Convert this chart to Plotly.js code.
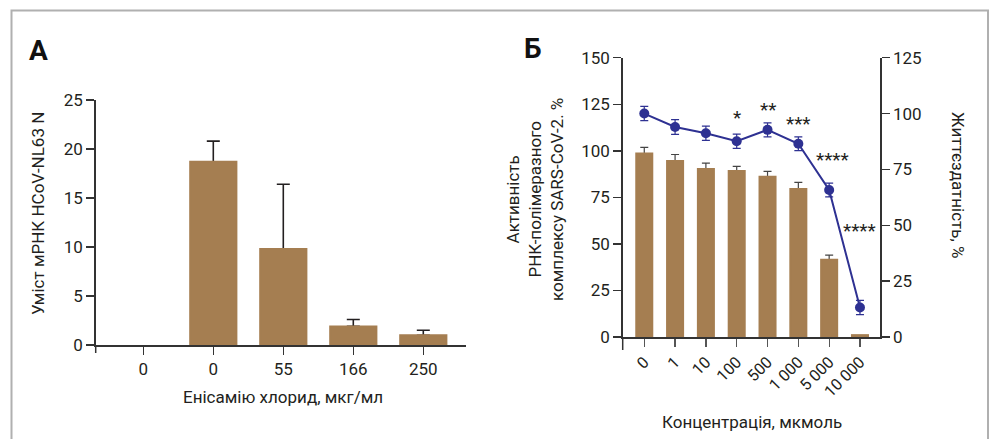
<!DOCTYPE html>
<html>
<head>
<meta charset="utf-8">
<script src="https://cdn.plot.ly/plotly-3.0.1.min.js"></script>
<style>html,body{margin:0;padding:0;background:#fff;}#chart{width:1001px;height:439px;}</style>
</head>
<body>
<div id="chart"></div>
<script>
// Panel A data
const categoriesA = ['0', '0', '55', '166', '250'];
const valuesA = [0, 18.7, 9.8, 1.9, 1.0];
const errorsA = [0, 2.1, 6.6, 0.7, 0.5];

// Panel B data
const categoriesB = ['0', '1', '10', '100', '500', '1 000', '5 000', '10 000'];
const activityB = [98.5, 94.5, 90.2, 89.1, 86.0, 79.5, 41.5, 1.0];
const activityErrB = [3.3, 3.5, 3.2, 2.5, 2.9, 3.5, 2.5, 0];
const viabilityB = [100, 94, 91.2, 87.6, 92.7, 86.5, 65.8, 13.2];
const viabilityErrB = [3.2, 3.3, 3.2, 3.2, 3.1, 3.1, 3.1, 3.2];
const starsB = ['', '', '', '*', '**', '***', '****', '****'];
const starY = [0, 0, 0, 118, 122, 114.5, 95.5, 57];
const starX = [0, 0, 0, 3, 4, 5, 6.1, 7.0];

const W = 1001, H = 439;
const px = v => v / W;
const py = v => 1 - v / H;

const brown = '#a57e51';
const blue = '#2e3192';
const ink = '#231f20';
const font = 'Roboto, "Noto Sans", sans-serif';

const idxA = categoriesA.map((c, i) => i);
const idxB = categoriesB.map((c, i) => i);
// error-bar anchor points only where an error exists
const errPtsA = valuesA.map((v, i) => errorsA[i] > 0 ? v : null);
const errPtsB = activityB.map((v, i) => activityErrB[i] > 0 ? v : null);

const traces = [
  // error bars (base axes, drawn beneath the bars)
  {
    type: 'scatter', mode: 'markers', x: idxA, y: errPtsA, xaxis: 'x', yaxis: 'y',
    marker: {size: 1, color: 'rgba(0,0,0,0)'},
    error_y: {type: 'data', array: errorsA, arrayminus: errorsA.map(() => 0), symmetric: false,
      color: ink, thickness: 1.6, width: 6.5},
    hoverinfo: 'skip', cliponaxis: false
  },
  {
    type: 'scatter', mode: 'markers', x: idxB, y: errPtsB, xaxis: 'x2', yaxis: 'y2',
    marker: {size: 1, color: 'rgba(0,0,0,0)'},
    error_y: {type: 'data', array: activityErrB, arrayminus: activityErrB.map(() => 0), symmetric: false,
      color: '#444', thickness: 1.2, width: 4},
    hoverinfo: 'skip', cliponaxis: false
  },
  // bars (overlay axes, drawn above)
  {
    type: 'bar', x: idxA, y: valuesA, xaxis: 'x', yaxis: 'y4',
    width: 0.66, marker: {color: brown, line: {color: brown, width: valuesA.map(v => v > 0 ? 2 : 0)}},
    hoverinfo: 'skip'
  },
  {
    type: 'bar', x: idxB, y: activityB, xaxis: 'x2', yaxis: 'y5',
    width: 0.52, marker: {color: brown, line: {color: brown, width: 2}}, hoverinfo: 'skip'
  },
  {
    type: 'scatter', mode: 'lines+markers', x: idxB, y: viabilityB, xaxis: 'x2', yaxis: 'y3',
    line: {color: blue, width: 2}, marker: {color: blue, size: 10},
    error_y: {type: 'data', array: viabilityErrB, color: blue, thickness: 1.2, width: 4},
    hoverinfo: 'skip', cliponaxis: false
  }
];

const axisCommon = {
  showgrid: false, zeroline: false, showline: true, linecolor: '#333', linewidth: 1.5,
  ticks: 'outside', ticklen: 8, tickwidth: 1.5, tickcolor: '#333',
  tickfont: {family: font, size: 17, color: ink}, fixedrange: true
};

const ann = (text, x, y, extra) => Object.assign({
  text: text, x: px(x), y: py(y), xref: 'paper', yref: 'paper', showarrow: false,
  xanchor: 'center', yanchor: 'middle', font: {family: font, size: 17, color: ink}
}, extra || {});

const annotations = [
  ann('A', 38, 50, {font: {family: font, size: 28, color: '#111', weight: 'bold'}}),
  ann('Б', 533, 48, {font: {family: font, size: 28, color: '#111', weight: 'bold'}}),
  ann('Уміст мРНК HCoV-NL63 N', 38, 214, {textangle: -90}),
  ann('Енісамію хлорид, мкг/мл', 283, 397),
  ann('Активність<br>РНК-полімеразного<br>комплексу SARS-CoV-2. %', 535, 200, {textangle: -90}),
  ann('Життєздатність, %', 958, 185, {textangle: 90}),
  ann('Концентрація, мкмоль', 752, 422)
];
starsB.forEach((s, i) => {
  if (!s) return;
  annotations.push({text: s, x: starX[i], y: starY[i], xref: 'x2', yref: 'y2', showarrow: false,
    xanchor: 'center', yanchor: 'middle', font: {family: font, size: 19, color: ink}});
});

const layout = {
  width: W, height: H, margin: {l: 0, r: 0, t: 0, b: 0},
  paper_bgcolor: '#fff', plot_bgcolor: 'rgba(0,0,0,0)', showlegend: false,
  barmode: 'overlay',
  xaxis: Object.assign({}, axisCommon, {
    domain: [px(95.7), px(466)], range: [-0.68, 4.61], anchor: 'y',
    tickvals: idxA, ticktext: categoriesA
  }),
  yaxis: Object.assign({}, axisCommon, {
    domain: [py(345), py(100)], range: [0, 25], anchor: 'x', tickvals: [0, 5, 10, 15, 20, 25]
  }),
  yaxis4: {domain: [py(345), py(100)], range: [0, 25], anchor: 'x', overlaying: 'y',
    visible: false, fixedrange: true},
  xaxis2: Object.assign({}, axisCommon, {
    domain: [px(622.7), px(880)], range: [-0.70, 7.65], anchor: 'y2',
    tickvals: idxB, ticktext: categoriesB, tickangle: -45, tickcolor: '#555', tickwidth: 1.3,
    tickfont: {family: font, size: 16, color: ink}
  }),
  yaxis2: Object.assign({}, axisCommon, {
    domain: [py(337), py(57.7)], range: [0, 150], anchor: 'x2', tickvals: [0, 25, 50, 75, 100, 125, 150]
  }),
  yaxis5: {domain: [py(337), py(57.7)], range: [0, 150], anchor: 'x2', overlaying: 'y2',
    visible: false, fixedrange: true},
  yaxis3: Object.assign({}, axisCommon, {
    domain: [py(337), py(57.7)], range: [0, 125], anchor: 'x2', overlaying: 'y2', side: 'right',
    tickvals: [0, 25, 50, 75, 100, 125]
  }),
  annotations: annotations,
  shapes: [
    {type: 'path', xref: 'paper', yref: 'paper',
      path: `M ${px(11.5)} ${-0.1} L ${px(11.5)} ${py(10.5)} L ${px(988)} ${py(10.5)} L ${px(988)} ${-0.1}`,
      line: {color: '#b0b0b0', width: 2}},
    {type: 'line', xref: 'paper', yref: 'paper', x0: px(95.7), x1: px(95.7), y0: py(345), y1: py(353),
      line: {color: '#333', width: 1.5}},
    {type: 'line', xref: 'paper', yref: 'paper', x0: px(622.7), x1: px(622.7), y0: py(337), y1: py(350),
      line: {color: '#333', width: 1.5}}
  ]
};

Plotly.newPlot('chart', traces, layout, {displayModeBar: false, staticPlot: true});
</script>
</body>
</html>
